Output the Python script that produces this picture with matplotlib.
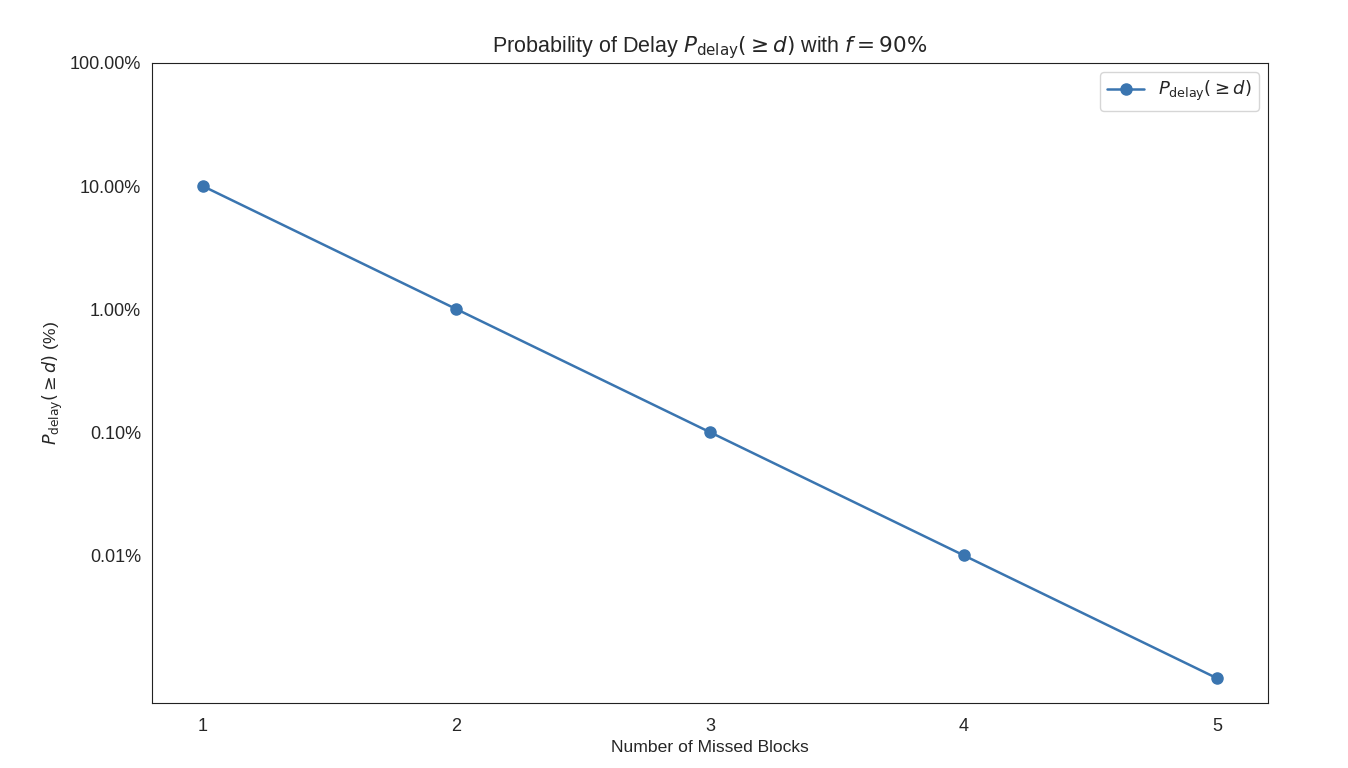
import matplotlib
matplotlib.use("Agg")
import matplotlib.pyplot as plt
import seaborn as sns
from matplotlib.ticker import FuncFormatter

missed_blocks = [1, 2, 3, 4, 5]
p_delay = [10.0, 1.0, 0.1, 0.01, 0.001]  # in percent
ytick_vals = [100, 10, 1, 0.1, 0.01]

sns.set_style("white")
plt.rcParams['font.family'] = ['Liberation Sans', 'DejaVu Sans']

fig, ax = plt.subplots(figsize=(13.48, 7.68), dpi=100)
fig.subplots_adjust(left=0.1128, right=0.9407, top=0.918, bottom=0.0846)

ax.plot(missed_blocks, p_delay, marker='o', color='#3A75B0', linewidth=1.8,
        markersize=8, label=r'$P_{\mathrm{delay}}(\geq d)$')
ax.set_yscale('log')
ax.set_ylim(top=100)
ax.set_yticks(ytick_vals)
ax.yaxis.set_major_formatter(FuncFormatter(lambda v, p: '{:.2f}%'.format(v)))
ax.minorticks_off()
ax.set_xticks(missed_blocks)

ax.set_title(r'Probability of Delay $P_{\mathrm{delay}}(\geq d)$ with $f = 90\%$',
             fontsize=15.5, pad=7.5)
ax.set_xlabel('Number of Missed Blocks', fontsize=12.6)
ax.set_ylabel(r'$P_{\mathrm{delay}}(\geq d)$ (%)', fontsize=12.6, labelpad=3)
ax.tick_params(labelsize=13)
ax.tick_params(axis='x', pad=7)
ax.tick_params(axis='y', pad=4.5)
for s in ax.spines.values():
    s.set_color('#222222')
ax.legend(loc='upper right', fontsize=13)

plt.savefig('out.png', dpi=100)
